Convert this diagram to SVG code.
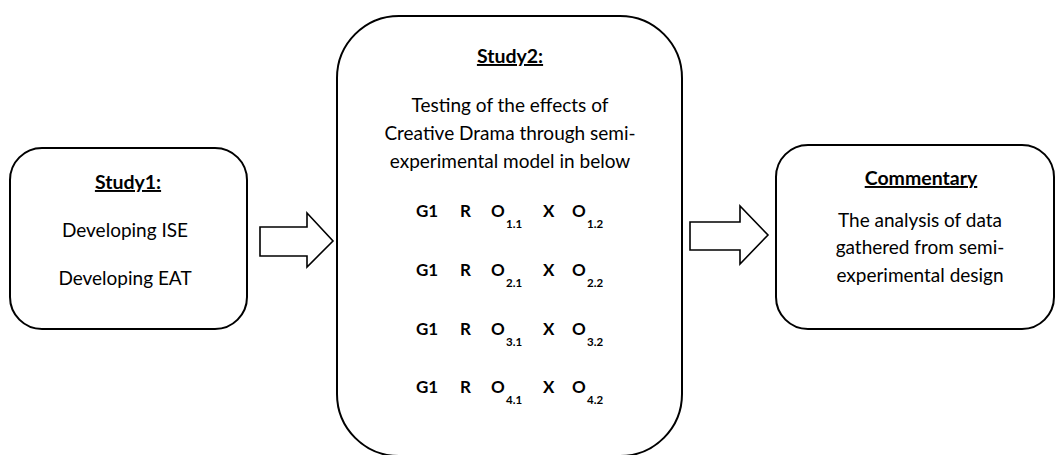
<svg xmlns="http://www.w3.org/2000/svg" width="1056" height="455" viewBox="0 0 1056 455">
<style>
.box{fill:#fff;stroke:#000;stroke-width:2}
.arr{fill:#fff;stroke:#000;stroke-width:1.6;stroke-linejoin:miter}
text{font-family:Lato,"Liberation Sans",sans-serif;fill:#000;text-anchor:middle}
.t{font-size:19px}
.h{font-size:19.5px;font-weight:bold;text-decoration:underline}
.g{font-size:17px;font-weight:bold;text-anchor:start}
.s{font-size:11.5px;font-weight:bold;text-anchor:start}
</style>
<rect width="1056" height="455" fill="#fff"/>
<g id="connectors">
<path class="arr" d="M260,227 H307 V213 L333,241 L307,267 V256 H260 Z"/>
<path class="arr" d="M690,222 H740 V206 L768,235 L740,264 V250 H690 Z"/>
</g>
<g id="study1">
<rect class="box" x="10" y="148" width="237" height="181" rx="32"/>
<text class="h" x="128" y="189">Study1:</text>
<text class="t" x="125" y="237">Developing ISE</text>
<text class="t" x="125" y="285">Developing EAT</text>
</g>
<g id="study2">
<rect class="box" x="337" y="16" width="345" height="440" rx="62"/>
<text class="h" x="510" y="63">Study2:</text>
<text class="t" x="510" y="112">Testing of the effects of</text>
<text class="t" x="510" y="140">Creative Drama through semi-</text>
<text class="t" x="510" y="168">experimental model in below</text>
<g>
<text class="g" x="416" y="217">G1</text><text class="g" x="460" y="217">R</text><text class="g" x="491" y="217">O</text><text class="s" x="506" y="228">1.1</text><text class="g" x="543" y="217">X</text><text class="g" x="572" y="217">O</text><text class="s" x="587" y="228">1.2</text>
</g>
<g>
<text class="g" x="416" y="276">G1</text><text class="g" x="460" y="276">R</text><text class="g" x="491" y="276">O</text><text class="s" x="506" y="287">2.1</text><text class="g" x="543" y="276">X</text><text class="g" x="572" y="276">O</text><text class="s" x="587" y="287">2.2</text>
</g>
<g>
<text class="g" x="416" y="335">G1</text><text class="g" x="460" y="335">R</text><text class="g" x="491" y="335">O</text><text class="s" x="506" y="346">3.1</text><text class="g" x="543" y="335">X</text><text class="g" x="572" y="335">O</text><text class="s" x="587" y="346">3.2</text>
</g>
<g>
<text class="g" x="416" y="393">G1</text><text class="g" x="460" y="393">R</text><text class="g" x="491" y="393">O</text><text class="s" x="506" y="404">4.1</text><text class="g" x="543" y="393">X</text><text class="g" x="572" y="393">O</text><text class="s" x="587" y="404">4.2</text>
</g>
</g>
<g id="commentary">
<rect class="box" x="776" y="145" width="278" height="184" rx="32"/>
<text class="h" x="921" y="185">Commentary</text>
<text class="t" x="920" y="227">The analysis of data</text>
<text class="t" x="920" y="254">gathered from semi-</text>
<text class="t" x="920" y="282">experimental design</text>
</g>
</svg>
